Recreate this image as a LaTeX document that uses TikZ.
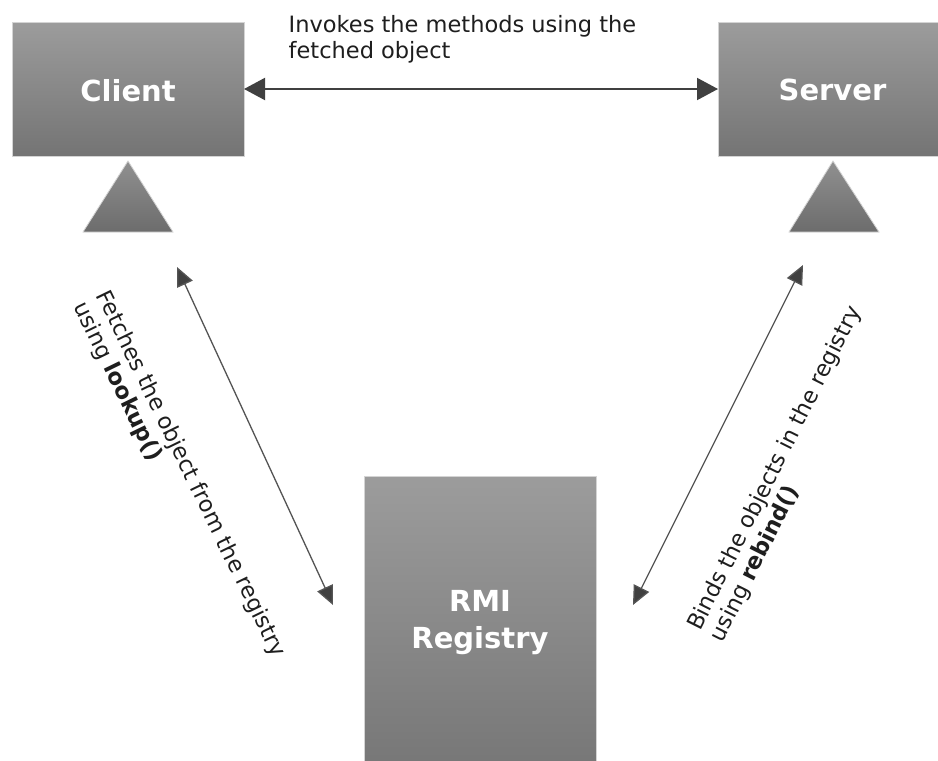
\documentclass[tikz,border=0pt]{standalone}
\usepackage{fontspec}
\setmainfont{DejaVu Sans}
\usetikzlibrary{arrows.meta,calc}
\definecolor{boxtop}{HTML}{9C9C9C}
\definecolor{boxbot}{HTML}{747474}
\definecolor{tritop}{HTML}{909090}
\definecolor{tribot}{HTML}{6C6C6C}
\definecolor{boxedge}{HTML}{D4D4D4}
\definecolor{arrowcol}{HTML}{404040}
\definecolor{dlinecol}{HTML}{555555}
\definecolor{labeltext}{HTML}{1E1E1E}
\begin{document}
\begin{tikzpicture}[x=1pt,y=-1pt,
  box/.style={draw=boxedge, line width=1pt, top color=boxtop, bottom color=boxbot, inner sep=0pt, outer sep=0pt, rectangle},
  tri/.style={draw=boxedge, line width=0.8pt, top color=tritop, bottom color=tribot},
  boxtext/.style={text=white, font=\fontsize{29}{36}\selectfont\bfseries, inner sep=0pt, anchor=base},
  lbl/.style={font=\fontsize{22.5}{26}\selectfont, text=labeltext, inner sep=0pt, anchor=north west, align=left},
  dlbl/.style={lbl, font=\fontsize{22.5}{25}\selectfont},
  harrow/.style={draw=arrowcol, line width=2pt, {Triangle[length=21pt,width=22pt]}-{Triangle[length=21pt,width=22pt]}},
  darrow/.style={draw=dlinecol, line width=1.3pt, {Triangle[length=19pt,width=17pt,fill=arrowcol]}-{Triangle[length=19pt,width=17pt,fill=arrowcol]}}
]
\path[use as bounding box, fill=white] (0,0) rectangle (938,761);
\clip (0,0) rectangle (938,761);

% boxes
\node[box, minimum width=232pt, minimum height=134pt] (client) at (128,89) {};
\node[box, minimum width=229pt, minimum height=134pt] (server) at (832.5,89) {};
\node[box, minimum width=232pt, minimum height=314pt] (rmi) at (480,633) {};

\node[boxtext] (clientlbl) at (128,101.7) {Client};
\node[boxtext] (serverlbl) at (832.5,100.7) {Server};
\node[boxtext] (rmilbl1) at (480,611.7) {RMI};
\node[boxtext] (rmilbl2) at (480,648) {Registry};

% triangles
\path[tri] (128,161) -- (173,232) -- (83,232) -- cycle;
\path[tri] (833,161) -- (879,232) -- (789,232) -- cycle;

% horizontal connector
\draw[harrow] (client.east) -- (server.west);
\node[lbl] (invokes) at (288.5,15.2) {Invokes the methods using the\\fetched object};

% diagonal connectors
\coordinate (ltop) at (177,267);
\coordinate (lbot) at (333,605);
\coordinate (rtop) at (803,265);
\coordinate (rbot) at (633,605);
\draw[darrow] (ltop) -- (lbot);
\draw[darrow] (rtop) -- (rbot);

\node[dlbl, rotate=-64] (fetch) at (111.4,287.5) {Fetches the object from the registry\\using \textbf{lookup()}};
\node[dlbl, rotate=63.4] (bind) at (684.7,624.3) {Binds the objects in the registry\\using \textbf{rebind()}};
\end{tikzpicture}
\end{document}
